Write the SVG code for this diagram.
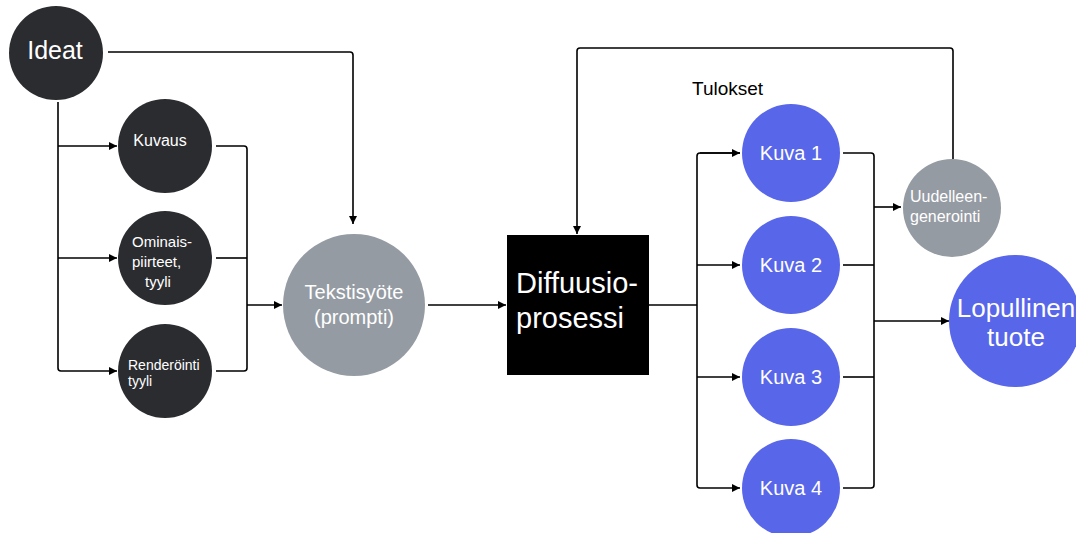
<svg xmlns="http://www.w3.org/2000/svg" width="1076" height="533" viewBox="0 0 1076 533">
<defs>
<marker id="ah" viewBox="0 0 10 10" refX="10" refY="5" markerWidth="8" markerHeight="8" markerUnits="userSpaceOnUse" orient="auto"><path d="M0,0 L10,5 L0,10 z" fill="#000"/></marker>
<style>
.c{fill:none;stroke:#000;stroke-width:1.6;stroke-linejoin:round}
.a{marker-end:url(#ah)}
.dk{fill:#2b2c30}
.gy{fill:#959ba3}
.bl{fill:#5866e9}
text{font-family:"Liberation Sans",Arial,sans-serif;fill:#fff}
</style>
</defs>
<rect width="1076" height="533" fill="#fff"/>
<g id="connectors">
<path class="c a" d="M108,52 H350 Q353,52 353,55 V224"/>
<path class="c" d="M58,102 V368 Q58,371 61,371"/>
<path class="c a" d="M58,146 H117"/>
<path class="c a" d="M58,258 H117"/>
<path class="c a" d="M61,371 H117"/>
<path class="c" d="M216,146 H244 Q247,146 247,149 V368 Q247,371 244,371 H216"/>
<path class="c" d="M216,258 H247"/>
<path class="c a" d="M247,305 H282"/>
<path class="c a" d="M428,305 H506"/>
<path class="c" d="M649,305 H697"/>
<path class="c" d="M740,153 H700 Q697,153 697,156 V485 Q697,488 700,488"/>
<path class="c a" d="M700,153 H740"/>
<path class="c a" d="M697,265 H740"/>
<path class="c a" d="M697,377 H740"/>
<path class="c a" d="M700,488 H740"/>
<path class="c" d="M843,153 H871 Q874,153 874,156 V485 Q874,488 871,488 H843"/>
<path class="c" d="M843,265 H874"/>
<path class="c" d="M843,377 H874"/>
<path class="c a" d="M874,207 H901"/>
<path class="c a" d="M874,321 H949"/>
<path class="c a" d="M953,159 V51 Q953,48 950,48 H580 Q577,48 577,51 V234"/>
</g>
<g id="ideat"><circle class="dk" cx="56" cy="53" r="47"/><text x="55" y="59" font-size="25" text-anchor="middle">Ideat</text></g>
<g id="kuvaus"><circle class="dk" cx="165" cy="146" r="47"/><text x="160" y="146" font-size="16" text-anchor="middle">Kuvaus</text></g>
<g id="ominais"><circle class="dk" cx="165" cy="258" r="47"/><text font-size="15"><tspan x="132" y="247">Ominais-</tspan><tspan x="132" y="267">piirteet,</tspan><tspan x="145" y="287">tyyli</tspan></text></g>
<g id="render"><circle class="dk" cx="165" cy="371" r="47"/><text font-size="14"><tspan x="128" y="370">Renderöinti</tspan><tspan x="128" y="386">tyyli</tspan></text></g>
<g id="tekstisyote"><circle class="gy" cx="354" cy="305" r="71"/><text font-size="20" text-anchor="middle"><tspan x="354" y="299">Tekstisyöte</tspan><tspan x="354" y="324">(prompti)</tspan></text></g>
<g id="diffuusio"><rect x="507" y="235" width="142" height="140" fill="#000"/><text font-size="29"><tspan x="516" y="293">Diffuusio-</tspan><tspan x="516" y="328">prosessi</tspan></text></g>
<text x="692" y="95" font-size="19" style="fill:#000">Tulokset</text>
<g id="kuva1"><circle class="bl" cx="791" cy="153" r="49"/><text x="791" y="160" font-size="20" text-anchor="middle">Kuva 1</text></g>
<g id="kuva2"><circle class="bl" cx="791" cy="265" r="49"/><text x="791" y="272" font-size="20" text-anchor="middle">Kuva 2</text></g>
<g id="kuva3"><circle class="bl" cx="791" cy="377" r="49"/><text x="791" y="384" font-size="20" text-anchor="middle">Kuva 3</text></g>
<g id="kuva4"><circle class="bl" cx="791" cy="488" r="49"/><text x="791" y="495" font-size="20" text-anchor="middle">Kuva 4</text></g>
<g id="uudelleen"><circle class="gy" cx="952" cy="208" r="49"/><text font-size="16"><tspan x="910" y="202">Uudelleen-</tspan><tspan x="910" y="222">generointi</tspan></text></g>
<g id="lopullinen"><circle class="bl" cx="1015" cy="321" r="66"/><text font-size="26" text-anchor="middle"><tspan x="1016" y="317">Lopullinen</tspan><tspan x="1016" y="346">tuote</tspan></text></g>
</svg>
